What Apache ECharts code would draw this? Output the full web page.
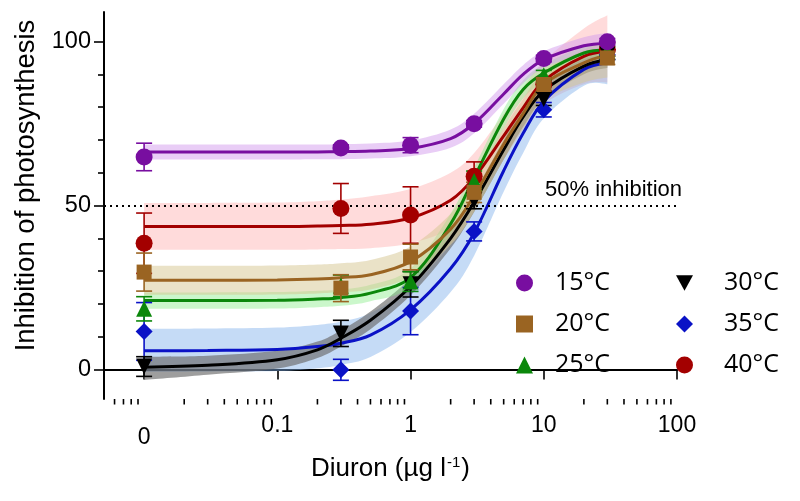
<!DOCTYPE html>
<html><head><meta charset="utf-8">
<script src="https://cdn.jsdelivr.net/npm/echarts@6/dist/echarts.min.js"></script>
<style>html,body{margin:0;padding:0;background:#fff}#c{width:800px;height:501px}</style>
</head><body><div id="c"></div>
<script>
// ---- data (dose 0 is plotted at 0.01 on the log axis, labelled "0") ----
const doses = [0.01, 0.3, 1, 3, 10, 30];
const temps = ['15°C', '20°C', '25°C', '30°C', '35°C', '40°C'];

const mean15 = [64.8, 67.5, 68.4, 74.9, 94.8, 99.9];
const err15  = [4.2, 1.0, 2.3, 1.0, 1.0, 1.0];
const mean20 = [29.7, 24.8, 34.3, 54.0, 86.9, 95.0];
const err20  = [5.8, 4.1, 3.9, 3.1, 2.0, 2.0];
const mean25 = [18.5, 25.5, 26.8, 57.5, 89.7, 97.0];
const err25  = [3.7, 3.3, 3.0, 3.0, 1.5, 1.5];
const mean30 = [0.9, 11.0, 26.0, 51.5, 82.5, 96.0];
const err30  = [3.0, 4.0, 3.9, 2.5, 2.0, 1.5];
const mean35 = [11.6, -0.1, 17.8, 42.1, 79.2, 96.0];
const err35  = [8.8, 3.2, 7.2, 2.9, 2.2, 1.5];
const mean40 = [38.5, 49.1, 47.1, 58.9, 87.0, 97.6];
const err40  = [9.2, 7.6, 8.6, 4.4, 2.0, 2.0];

// fitted curves and confidence bands, read at these doses
const fitX = [0.01, 0.03, 0.1, 0.2, 0.3, 0.5, 1, 2, 3, 5, 7, 10, 20, 30];
const fit15 = [66.3, 66.3, 66.3, 66.35, 66.4, 66.6, 67.4, 70.4, 75.0, 84.0, 90.0, 94.5, 98.7, 99.5];
const hi15  = [68.6, 68.6, 68.6, 68.6, 68.7, 68.9, 69.8, 73.2, 78.0, 87.0, 92.8, 97.0, 101.3, 102.6];
const lo15  = [64.0, 64.0, 64.0, 64.1, 64.1, 64.3, 65.0, 67.6, 72.0, 81.0, 87.2, 92.0, 96.2, 96.8];
const fit20 = [27.2, 27.2, 27.3, 27.6, 28.0, 28.9, 32.9, 42.8, 53.0, 68.7, 78.0, 87.0, 93.5, 96.0];
const hi20  = [31.6, 31.6, 31.7, 32.0, 32.4, 33.4, 37.5, 47.5, 58.0, 73.5, 82.5, 91.0, 97.5, 100.0];
const lo20  = [22.8, 22.8, 22.9, 23.2, 23.6, 24.4, 28.3, 38.0, 48.0, 64.0, 73.5, 82.0, 87.5, 89.0];
const fit25 = [21.0, 21.0, 21.1, 21.5, 21.9, 23.3, 28.0, 44.4, 58.5, 76.4, 85.4, 90.4, 96.5, 97.5];
const hi25  = [23.5, 23.5, 23.6, 24.0, 24.4, 25.8, 30.8, 47.5, 61.5, 79.4, 88.2, 93.0, 98.5, 99.5];
const lo25  = [18.5, 18.5, 18.6, 19.0, 19.4, 20.8, 25.2, 41.3, 55.5, 73.4, 82.6, 87.8, 94.5, 95.5];
const fit30 = [0.7, 1.3, 3.0, 6.0, 9.5, 15.0, 25.3, 40.0, 51.0, 67.0, 77.0, 85.0, 92.5, 94.5];
const hi30  = [3.9, 4.2, 5.7, 8.5, 12.0, 17.7, 28.0, 43.0, 54.0, 70.0, 80.0, 87.5, 95.0, 97.0];
const lo30  = [-3.2, -1.6, 0.3, 3.5, 7.0, 12.3, 22.6, 37.0, 48.0, 64.0, 74.0, 82.5, 90.0, 92.0];
const fit35 = [5.7, 5.8, 6.1, 7.0, 8.0, 10.5, 18.2, 30.8, 41.6, 60.6, 72.0, 81.8, 91.5, 93.5];
const hi35  = [12.4, 12.5, 12.8, 13.6, 14.6, 17.2, 25.0, 38.0, 48.5, 67.0, 78.0, 87.0, 96.0, 98.0];
const lo35  = [-0.8, -0.7, -0.5, 0.4, 1.4, 3.8, 11.4, 23.6, 34.7, 54.2, 66.0, 76.6, 86.5, 87.0];
const fit40 = [43.6, 43.6, 43.6, 43.75, 43.9, 44.3, 46.2, 51.6, 58.5, 71.2, 79.8, 88.0, 95.5, 97.0];
const hi40  = [50.8, 50.8, 50.9, 51.3, 51.8, 52.8, 55.0, 60.0, 66.0, 78.0, 86.0, 94.0, 104.0, 108.0];
const lo40  = [36.5, 36.5, 36.5, 36.6, 36.7, 37.0, 38.5, 43.0, 51.0, 64.0, 73.0, 81.0, 87.0, 87.5];

const refLevel = 50;
const refText = '50% inhibition';

// axis ticks
const xTickValues = [0.01, 0.1, 1, 10, 100];
const xTickLabels = ['0', '0.1', '1', '10', '100'];
const xMinorTicks = [0.006, 0.007, 0.008, 0.009,
  0.02, 0.03, 0.04, 0.05, 0.06, 0.07, 0.08, 0.09,
  0.2, 0.3, 0.4, 0.5, 0.6, 0.7, 0.8, 0.9,
  2, 3, 4, 5, 6, 7, 8, 9,
  20, 30, 40, 50, 60, 70, 80, 90];
const yTickValues = [0, 50, 100];
const yMinorTicks = [10, 20, 30, 40, 60, 70, 80, 90];

const X_MIN = 0.005, X_MAX = 100, Y_MIN = -9, Y_MAX = 109;

// ---- styles ----
const groups = [
  // drawn in this order (later on top)
  { name: '40°C', mean: mean40, err: err40, fit: fit40, lo: lo40, hi: hi40, color: '#A30000', band: '#FFB0B0', bandOp: 0.45, symbol: 'circle', size: 17 },
  { name: '35°C', mean: mean35, err: err35, fit: fit35, lo: lo35, hi: hi35, color: '#0A12C6', band: '#7FB0EA', bandOp: 0.45, symbol: 'diamond', size: 17 },
  { name: '30°C', mean: mean30, err: err30, fit: fit30, lo: lo30, hi: hi30, color: '#000000', band: '#6A6A6A', bandOp: 0.65, symbol: 'path://M0,0 L10,0 L5,9 Z', size: 16 },
  { name: '25°C', mean: mean25, err: err25, fit: fit25, lo: lo25, hi: hi25, color: '#0B870B', band: '#8CEE8C', bandOp: 0.45, symbol: 'triangle', size: 16 },
  { name: '20°C', mean: mean20, err: err20, fit: fit20, lo: lo20, hi: hi20, color: '#9A6422', band: '#D6C690', bandOp: 0.5, symbol: 'rect', size: 15 },
  { name: '15°C', mean: mean15, err: err15, fit: fit15, lo: lo15, hi: hi15, color: '#780EA0', band: '#D39BEE', bandOp: 0.5, symbol: 'circle', size: 17 }
];

// Catmull-Rom -> cubic Bezier path segments through pixel points
function curveSegs(pts) {
  let s = '';
  for (let i = 0; i < pts.length - 1; i++) {
    const p0 = pts[i - 1] || pts[i], p1 = pts[i], p2 = pts[i + 1], p3 = pts[i + 2] || pts[i + 1];
    const c1 = [p1[0] + (p2[0] - p0[0]) / 6, p1[1] + (p2[1] - p0[1]) / 6];
    const c2 = [p2[0] - (p3[0] - p1[0]) / 6, p2[1] - (p3[1] - p1[1]) / 6];
    s += ' C' + c1[0].toFixed(2) + ',' + c1[1].toFixed(2) + ' ' + c2[0].toFixed(2) + ',' + c2[1].toFixed(2) + ' ' + p2[0].toFixed(2) + ',' + p2[1].toFixed(2);
  }
  return s;
}

const series = [];
groups.forEach(g => {
  series.push({
    type: 'custom', name: 'band ' + g.name, z: 1, silent: true,
    data: [[fitX[0], g.fit[0]]], encode: { x: 0, y: 1 },
    renderItem: (params, api) => {
      const up = fitX.map((x, i) => api.coord([x, g.hi[i]]));
      const dn = fitX.map((x, i) => api.coord([x, g.lo[i]])).reverse();
      const d = 'M' + up[0][0] + ',' + up[0][1] + curveSegs(up) +
        ' L' + dn[0][0] + ',' + dn[0][1] + curveSegs(dn) + ' Z';
      return { type: 'path', shape: { pathData: d }, style: { fill: g.band, opacity: g.bandOp, stroke: null } };
    }
  });
});
groups.forEach(g => {
  series.push({
    type: 'line', name: 'fit ' + g.name, data: fitX.map((x, i) => [x, g.fit[i]]),
    symbol: 'none', smooth: 0.35, lineStyle: { color: g.color, width: 3 }, silent: true, z: 3
  });
});
groups.forEach(g => {
  series.push({
    type: 'custom', name: 'err ' + g.name, z: 4, silent: true,
    data: doses.map((x, i) => [x, g.mean[i], g.mean[i] - g.err[i], g.mean[i] + g.err[i]]),
    encode: { x: 0, y: [1, 2, 3] },
    renderItem: (params, api) => {
      const x = api.value(0);
      const a = api.coord([x, api.value(2)]);
      const b = api.coord([x, api.value(3)]);
      const w = 8;
      const st = { stroke: g.color, lineWidth: 1.6 };
      return { type: 'group', children: [
        { type: 'line', shape: { x1: a[0], y1: a[1], x2: b[0], y2: b[1] }, style: st },
        { type: 'line', shape: { x1: a[0] - w, y1: a[1], x2: a[0] + w, y2: a[1] }, style: st },
        { type: 'line', shape: { x1: b[0] - w, y1: b[1], x2: b[0] + w, y2: b[1] }, style: st }
      ]};
    }
  });
});
groups.forEach(g => {
  series.push({
    type: 'scatter', name: g.name, data: doses.map((x, i) => [x, g.mean[i]]),
    symbol: g.symbol, symbolSize: g.size, itemStyle: { color: g.color, opacity: 1 }, z: 5, silent: true
  });
});
// reference line
series.push({
  type: 'line', name: 'ref', data: [], silent: true,
  markLine: { symbol: 'none', silent: true, label: { show: false },
    lineStyle: { color: '#000', type: [2, 4], width: 2 }, data: [{ yAxis: refLevel }] }
});
// x-axis minor ticks
series.push({
  type: 'custom', name: 'xminor', silent: true, z: 6, clip: false,
  data: xMinorTicks.map(v => [v, Y_MIN]), encode: { x: 0, y: 1 },
  renderItem: (params, api) => {
    const p = api.coord([api.value(0), Y_MIN]);
    return { type: 'line', shape: { x1: p[0], y1: p[1], x2: p[0], y2: p[1] + 5.5 },
      style: { stroke: '#000', lineWidth: 1.6 } };
  }
});

const labelFont = 'Liberation Sans, Arial, sans-serif';
const legendText = { fontFamily: 'Open Sans', fontSize: 25, color: '#000', lineHeight: 30 };

const option = {
  animation: false,
  backgroundColor: '#fff',
  grid: { left: 104, right: 123, top: 12, bottom: 102, containLabel: false },
  xAxis: {
    type: 'log', logBase: 10, min: X_MIN, max: X_MAX,
    name: 'Diuron (µg l{sup|-1})', nameLocation: 'middle', nameGap: 56,
    nameTextStyle: { fontFamily: labelFont, fontSize: 26, color: '#000',
      rich: { sup: { fontFamily: labelFont, fontSize: 15, color: '#000', verticalAlign: 'top', padding: [0, 1, 12, 1] } } },
    axisLine: { lineStyle: { color: '#000', width: 2 } },
    axisTick: { show: true, length: 10, lineStyle: { color: '#000', width: 1.6 } },
    splitLine: { show: false },
    axisLabel: {
      fontFamily: labelFont, fontSize: 23, color: '#000', margin: 15,
      formatter: v => {
        const i = xTickValues.findIndex(t => Math.abs(Math.log10(v) - Math.log10(t)) < 1e-6);
        if (i < 0) return '';
        return i === 0 ? '{z|' + xTickLabels[i] + '}' : xTickLabels[i];
      },
      rich: { z: { fontFamily: labelFont, fontSize: 23, color: '#000', padding: [12, 0, 0, 0] } }
    }
  },
  yAxis: [{
    type: 'value', min: Y_MIN, max: Y_MAX,
    name: 'Inhibition of photosynthesis', nameLocation: 'middle', nameGap: 56,
    nameTextStyle: { fontFamily: labelFont, fontSize: 27.5, color: '#000', padding: [0, 0, 0, 40] },
    axisLine: { show: true, lineStyle: { color: '#000', width: 2 } },
    axisTick: { show: true, length: 10, customValues: yTickValues, lineStyle: { color: '#000', width: 1.6 } },
    axisLabel: { fontFamily: labelFont, fontSize: 23.5, color: '#000', margin: 13, customValues: yTickValues },
    splitLine: { show: false }
  }, {
    type: 'value', min: Y_MIN, max: Y_MAX, position: 'left',
    axisLine: { show: false },
    axisTick: { show: true, length: 6, customValues: yMinorTicks, lineStyle: { color: '#000', width: 1.6 } },
    axisLabel: { show: false }, splitLine: { show: false }
  }],
  legend: [{
    data: ['15°C', '20°C', '25°C'], orient: 'vertical', left: 511, top: 263,
    itemWidth: 17, itemHeight: 17, itemGap: 11, selectedMode: false,
    textStyle: Object.assign({ padding: [0, 0, 0, 17] }, legendText)
  }, {
    data: ['30°C', '35°C', '40°C'], orient: 'vertical', left: 671, top: 263,
    itemWidth: 17, itemHeight: 17, itemGap: 11, selectedMode: false,
    textStyle: Object.assign({ padding: [0, 0, 0, 26] }, legendText)
  }],
  graphic: [{
    type: 'text', left: 545, top: 179,
    style: { text: refText, fontFamily: labelFont, fontSize: 22, fill: '#000' }
  }],
  series: series
};

const chart = echarts.init(document.getElementById('c'), null, { renderer: 'canvas' });
chart.setOption(option);
</script>
</body></html>
